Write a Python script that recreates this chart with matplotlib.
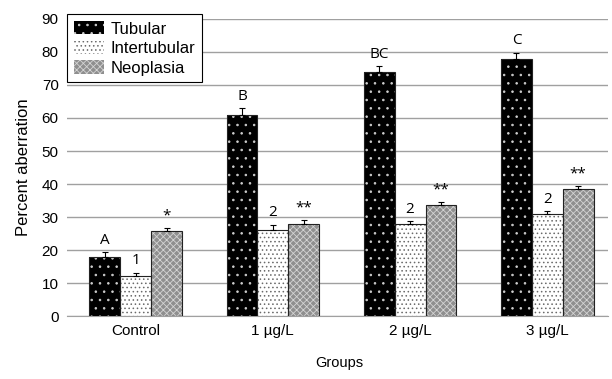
import matplotlib.pyplot as plt
import matplotlib.patches as mpatches
import numpy as np

plt.rcParams['font.family'] = ['Liberation Sans', 'DejaVu Sans']
plt.rcParams['hatch.linewidth'] = 0.6

groups = ["Control", "1 µg/L", "2 µg/L", "3 µg/L"]
series = ["Tubular", "Intertubular", "Neoplasia"]
tubular = [18.0, 61.0, 74.0, 78.0]
tubular_err = [1.4, 2.0, 1.8, 1.8]
intertubular = [12.0, 26.0, 27.8, 31.0]
intertubular_err = [1.2, 1.7, 1.1, 0.7]
neoplasia = [25.8, 28.0, 33.7, 38.5]
neoplasia_err = [1.0, 1.1, 0.9, 1.0]
labels_tub = ["A", "B", "BC", "C"]
labels_int = ["1", "2", "2", "2"]
labels_neo = ["*", "**", "**", "**"]

values = [tubular, intertubular, neoplasia]
errors = [tubular_err, intertubular_err, neoplasia_err]
marks = [labels_tub, labels_int, labels_neo]
faces = ["black", "white", "#8f8f8f"]
hatch_cols = ["#cfcfcf", "#6a6a6a", "#d4d4d4"]
hatches = ["..", "....", "xxxxx"]

fig = plt.figure(figsize=(6.12, 3.79), dpi=100)
ax = fig.add_axes([0.1095, 0.166, 0.8835, 0.784])

x = np.arange(len(groups))
w = 0.225
for i in range(3):
    xs = x + (i - 1) * w
    # fill + hatch, then black outline on top
    ax.bar(xs, values[i], w, color=faces[i], edgecolor=hatch_cols[i],
           hatch=hatches[i], linewidth=0, zorder=3)
    ax.bar(xs, values[i], w, color="none", edgecolor="#222222",
           linewidth=0.8, zorder=4)
    ax.errorbar(xs, values[i], yerr=[np.zeros(4), errors[i]], fmt="none",
                ecolor="black", elinewidth=0.8, capsize=2.5, capthick=0.8,
                zorder=5)
    for xi, v, e, m in zip(xs, values[i], errors[i], marks[i]):
        ax.annotate(m, (xi, v + e), xytext=(0, 3), textcoords="offset points",
                    ha="center", va="bottom", fontsize=11,
                    family=["Open Sans", "DejaVu Sans"])

ax.set_xlim(-0.5, 3.44)
ax.set_ylim(0, 90)
ax.set_yticks(range(0, 91, 10))
ax.set_xticks(x)
ax.set_xticklabels(groups)
ax.tick_params(length=0, labelsize=11, pad=6)
ax.yaxis.grid(True, color="#a0a0a0", linewidth=1.0, zorder=0)
ax.set_axisbelow(True)
for s in ["top", "right", "left"]:
    ax.spines[s].set_visible(False)
ax.spines["bottom"].set_color("#a0a0a0")

ax.set_ylabel("Percent aberration", fontsize=12, labelpad=8)
fig.text(0.555, 0.025, "Groups", ha="center", va="bottom", fontsize=10.5)

handles = [mpatches.Patch(facecolor=faces[i], edgecolor=hatch_cols[i],
                          hatch=hatches[i], linewidth=0) for i in range(3)]
leg = ax.legend(handles, series, loc="upper left", bbox_to_anchor=(0.0, 1.015),
                fontsize=12, frameon=True, fancybox=False, framealpha=1,
                edgecolor="black", borderpad=0.4, labelspacing=0.25,
                handlelength=1.8, handleheight=0.85, handletextpad=0.4,
                borderaxespad=0.0)
leg.get_frame().set_linewidth(0.8)
leg.set_zorder(10)

plt.savefig("out.png", dpi=100)
